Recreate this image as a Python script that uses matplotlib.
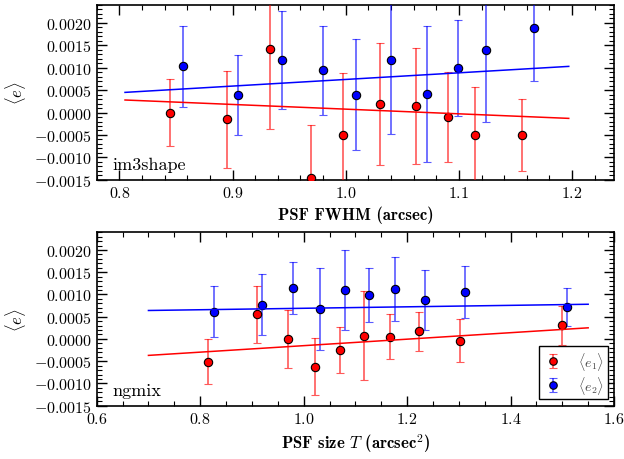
import numpy as np
import matplotlib
matplotlib.use("Agg")
import matplotlib.pyplot as plt
from matplotlib.ticker import MultipleLocator

plt.rcParams['font.family'] = 'serif'
plt.rcParams['font.serif'] = ['cmr10']
plt.rcParams['mathtext.fontset'] = 'cm'
plt.rcParams['axes.formatter.use_mathtext'] = True
plt.rcParams['axes.unicode_minus'] = True

# --- im3shape: e vs PSF FWHM ---
im3_x1 = [0.845, 0.895, 0.933, 0.969, 0.998, 1.030, 1.062, 1.090, 1.114, 1.156]
im3_e1 = [0.0000, -0.00015, 0.00141, -0.00147, -0.00050, 0.00019, 0.00014, -0.00010, -0.00050, -0.00050]
im3_e1_err = [0.00075, 0.00108, 0.00178, 0.00119, 0.00138, 0.00137, 0.00129, 0.00100, 0.00106, 0.00081]
im3_x2 = [0.856, 0.905, 0.944, 0.980, 1.009, 1.040, 1.072, 1.099, 1.124, 1.166]
im3_e2 = [0.00103, 0.00039, 0.00117, 0.00094, 0.00040, 0.00117, 0.00042, 0.00100, 0.00140, 0.00188]
im3_e2_err = [0.00091, 0.00089, 0.00109, 0.00100, 0.00124, 0.00165, 0.00152, 0.00107, 0.00160, 0.00118]
im3_fit_x = [0.805, 1.197]
im3_fit_e1 = [0.00028, -0.00013]
im3_fit_e2 = [0.00045, 0.00103]

# --- ngmix: e vs PSF size T ---
ng_x1 = [0.816, 0.910, 0.970, 1.021, 1.070, 1.116, 1.166, 1.223, 1.302, 1.500]
ng_e1 = [-0.00051, 0.00055, -0.00001, -0.00063, -0.00025, 0.00007, 0.00005, 0.00017, -0.00004, 0.00031]
ng_e1_err = [0.00050, 0.00065, 0.00065, 0.00064, 0.00051, 0.00100, 0.00050, 0.00044, 0.00048, 0.00044]
ng_x2 = [0.826, 0.920, 0.980, 1.032, 1.079, 1.127, 1.177, 1.234, 1.311, 1.510]
ng_e2 = [0.00061, 0.00077, 0.00115, 0.00067, 0.00110, 0.00098, 0.00113, 0.00087, 0.00105, 0.00072]
ng_e2_err = [0.00057, 0.00069, 0.00058, 0.00092, 0.00089, 0.00061, 0.00072, 0.00067, 0.00058, 0.00043]
ng_fit_x = [0.70, 1.55]
ng_fit_e1 = [-0.00037, 0.00025]
ng_fit_e2 = [0.00064, 0.00078]


def panel(ax, x1, e1, s1, x2, e2, s2, fx, f1, f2):
    kw = dict(fmt='o', ms=6, mec='k', mew=0.8, capsize=3, elinewidth=1.2,
              capthick=1.2, zorder=3)
    ax.errorbar(x1, e1, yerr=s1, color='r', ecolor=(1, 0, 0, 0.65),
                label=r'$\langle e_1\rangle$', **kw)
    ax.errorbar(x2, e2, yerr=s2, color='b', ecolor=(0, 0, 1, 0.65),
                label=r'$\langle e_2\rangle$', **kw)
    ax.plot(fx, f1, color='r', lw=1.1, zorder=4)
    ax.plot(fx, f2, color='b', lw=1.1, zorder=4)
    ax.set_ylim(-0.0015, 0.0024)
    ax.yaxis.set_major_locator(MultipleLocator(0.0005))
    ax.yaxis.set_minor_locator(MultipleLocator(0.0001))
    ax.tick_params(which='both', direction='in', top=True, right=True,
                   labelsize=11.5)
    ax.tick_params(which='major', length=7, width=1)
    ax.tick_params(which='minor', length=3.5, width=0.8)
    ax.set_ylabel(r'$\langle e\rangle$', fontsize=12)
    for s in ax.spines.values():
        s.set_linewidth(1.2)


fig = plt.figure(figsize=(6.24, 4.6), dpi=100)
ax1 = fig.add_axes([0.155, 0.607, 0.829, 0.380])
ax2 = fig.add_axes([0.155, 0.116, 0.829, 0.377])

panel(ax1, im3_x1, im3_e1, im3_e1_err, im3_x2, im3_e2, im3_e2_err,
      im3_fit_x, im3_fit_e1, im3_fit_e2)
ax1.set_xlim(0.78, 1.237)
ax1.xaxis.set_major_locator(MultipleLocator(0.1))
ax1.xaxis.set_minor_locator(MultipleLocator(0.02))
ax1.set_xlabel('PSF FWHM (arcsec)', fontsize=12, fontfamily='cmb10')
ax1.text(0.03, 0.06, 'im3shape', transform=ax1.transAxes, fontsize=13)

panel(ax2, ng_x1, ng_e1, ng_e1_err, ng_x2, ng_e2, ng_e2_err,
      ng_fit_x, ng_fit_e1, ng_fit_e2)
ax2.set_xlim(0.6, 1.6)
ax2.xaxis.set_major_locator(MultipleLocator(0.2))
ax2.xaxis.set_minor_locator(MultipleLocator(0.05))
ax2.set_xlabel(r'PSF size $T$ (arcsec$^2$)', fontsize=12, fontfamily='cmb10')
ax2.text(0.03, 0.06, 'ngmix', transform=ax2.transAxes, fontsize=13)
leg = ax2.legend(loc='lower right', numpoints=1, fontsize=10, fancybox=False,
                 edgecolor='k', framealpha=1, handlelength=1.6,
                 handletextpad=1.0, borderaxespad=0.45, borderpad=0.25,
                 labelspacing=0.15, markerscale=0.9, labelcolor='#444444',
                 handleheight=1.2)
leg.get_frame().set_linewidth(1.0)

fig.savefig('out.png', dpi=100)
